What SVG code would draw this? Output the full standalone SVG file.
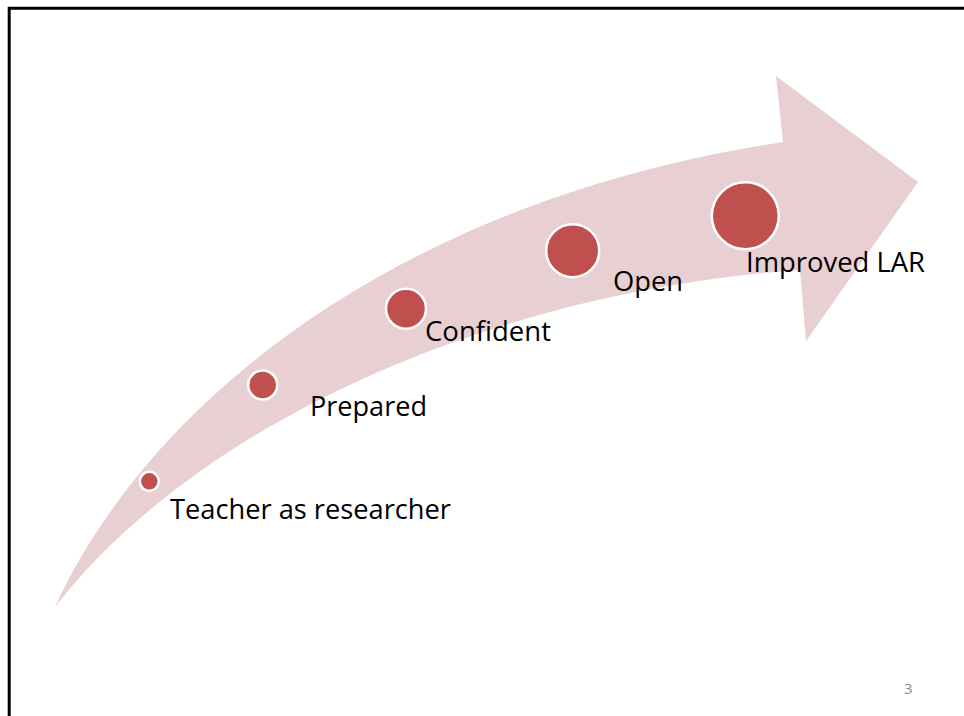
<svg xmlns="http://www.w3.org/2000/svg" width="964" height="716" viewBox="0 0 964 716">
  <style>
    .dot { fill: #C0504D; stroke: #FFFFFF; stroke-width: 2.5; }
    .lbl { font-family: "Open Sans", "Liberation Sans", sans-serif; font-size: 28px; fill: #000000; }
    .pg { font-family: "Open Sans", "Liberation Sans", sans-serif; font-size: 15px; fill: #8C8C8C; }
  </style>
  <rect x="0" y="0" width="964" height="716" fill="#FFFFFF"/>
  <path d="M9.2 716 V8.2 H964" fill="none" stroke="#000000" stroke-width="3"/>
  <g id="arrow">
    <path d="M55 607 C150 400 400 200 783 142 L776 76 L918 182 L806 341 L800 270 C500 290 200 420 55 607 Z" fill="#E8CFD1"/>
  </g>
  <g id="connectors"></g>
  <g id="node-teacher">
    <circle class="dot" cx="149.3" cy="481.3" r="9.5"/>
    <text class="lbl" x="170" y="519" textLength="281" lengthAdjust="spacingAndGlyphs">Teacher as researcher</text>
  </g>
  <g id="node-prepared">
    <circle class="dot" cx="262.7" cy="385" r="14.5"/>
    <text class="lbl" x="310" y="416" textLength="117" lengthAdjust="spacingAndGlyphs">Prepared</text>
  </g>
  <g id="node-confident">
    <circle class="dot" cx="406" cy="308.7" r="20"/>
    <text class="lbl" x="425" y="341" textLength="126" lengthAdjust="spacingAndGlyphs">Confident</text>
  </g>
  <g id="node-open">
    <circle class="dot" cx="572.7" cy="250.7" r="26.5"/>
    <text class="lbl" x="613" y="291" textLength="70" lengthAdjust="spacingAndGlyphs">Open</text>
  </g>
  <g id="node-improved">
    <circle class="dot" cx="745.3" cy="215.7" r="33.5"/>
    <text class="lbl" x="746" y="272" textLength="179" lengthAdjust="spacingAndGlyphs">Improved LAR</text>
  </g>
  <text class="pg" x="904" y="694">3</text>
</svg>
